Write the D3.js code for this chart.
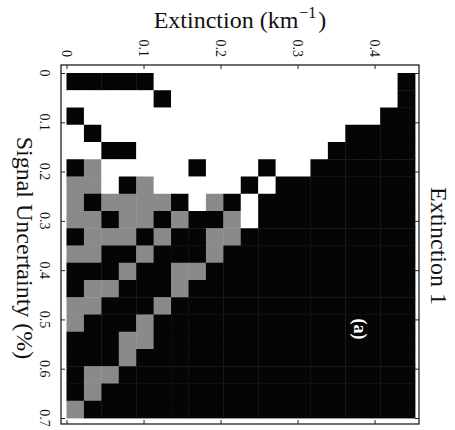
<!DOCTYPE html>
<html lang="en">
<head>
  <meta charset="UTF-8">
  <title>Extinction 1</title>
  <script src="https://d3js.org/d3.v7.min.js"></script>
  <style>
    body { margin: 0; background: #fff; }
    svg { display: block; }
    svg text { font-family: "Liberation Serif", "Times New Roman", Times, "DejaVu Serif", serif; }
    .frame line, .frame path { stroke: #222; }
  </style>
</head>
<body>
  <svg id="chart"></svg>
  <script>
    // data: 20 extinction bins (columns) x 20 signal-uncertainty bins (rows)
    // 0 = white, 1 = grey, 2 = black
    const extBins = [0,1,2,3,4,5,6,7,8,9,10,11,12,13,14,15,16,17,18,19];
    const uncBins = [0,1,2,3,4,5,6,7,8,9,10,11,12,13,14,15,16,17,18,19];
    const cellRows = [
      "22222000000000000002",
      "00000200000000000002",
      "20000000000000000022",
      "02000000000000002222",
      "00220000000000022222",
      "21000002000200222222",
      "11021000002022222222",
      "12111120120222222222",
      "11211212210222222222",
      "21112122112222222222",
      "11221222122222222222",
      "22212211222222222222",
      "21122212222222222222",
      "11222122222222222222",
      "12221222222222222222",
      "22211222222222222222",
      "22212222222222222222",
      "21122222222222222222",
      "21222222222222222222",
      "12222222222222222222"
    ];
    const extTicks = [0, 0.1, 0.2, 0.3, 0.4];
    const uncTicks = [0, 0.1, 0.2, 0.3, 0.4, 0.5, 0.6, 0.7];

    const W = 455, H = 430;
    const grid = { left: 66.5, right: 415, top: 73, bottom: 418 };
    const frame = { left: 61, right: 419, top: 65, bottom: 424 };

    const svg = d3.select("#chart").attr("width", W).attr("height", H);

    const xb = d3.scaleBand().domain(extBins).range([grid.left, grid.right]);
    const yb = d3.scaleBand().domain(uncBins).range([grid.top, grid.bottom]);
    const x = d3.scaleLinear().domain([0, 0.4525]).range([grid.left, grid.right]);
    const y = d3.scaleLinear().domain([0, 0.7]).range([grid.top, grid.bottom]);
    const color = d3.scaleOrdinal().domain([0, 1, 2]).range(["#ffffff", "#8a8a8a", "#050505"]);

    const cells = [];
    cellRows.forEach((row, r) => {
      row.split("").forEach((v, c) => cells.push({ r: uncBins[r], c: extBins[c], v: +v }));
    });

    svg.append("g")
      .selectAll("rect")
      .data(cells)
      .join("rect")
        .attr("x", d => xb(d.c))
        .attr("y", d => yb(d.r))
        .attr("width", xb.bandwidth() + 0.4)
        .attr("height", yb.bandwidth() + 0.4)
        .attr("fill", d => color(d.v));

    // frame with inward ticks
    const fr = svg.append("g").attr("class", "frame");
    fr.append("rect")
      .attr("x", frame.left).attr("y", frame.top)
      .attr("width", frame.right - frame.left).attr("height", frame.bottom - frame.top)
      .attr("fill", "none").attr("stroke", "#222").attr("stroke-width", 1.3);

    fr.append("g").attr("transform", `translate(0,${frame.top})`)
      .call(d3.axisTop(x).tickValues(extTicks).tickSize(-4).tickFormat(""))
      .call(g => g.select(".domain").remove());
    fr.append("g").attr("transform", `translate(0,${frame.bottom})`)
      .call(d3.axisBottom(x).tickValues(extTicks).tickSize(-4).tickFormat(""))
      .call(g => g.select(".domain").remove());
    fr.append("g").attr("transform", `translate(${frame.left},0)`)
      .call(d3.axisLeft(y).tickValues(uncTicks).tickSize(-4).tickFormat(""))
      .call(g => g.select(".domain").remove());
    fr.append("g").attr("transform", `translate(${frame.right},0)`)
      .call(d3.axisRight(y).tickValues(uncTicks).tickSize(-4).tickFormat(""))
      .call(g => g.select(".domain").remove());

    // tick labels (rotated, as in the scanned figure)
    svg.append("g").selectAll("text")
      .data(extTicks)
      .join("text")
        .attr("transform", d => `translate(${x(d)},57) rotate(90)`)
        .attr("text-anchor", "end")
        .attr("dy", "0.35em")
        .attr("font-size", 14)
        .attr("fill", "#111")
        .text(d => d === 0 ? "0" : d3.format(".1f")(d));

    svg.append("g").selectAll("text")
      .data(uncTicks)
      .join("text")
        .attr("transform", d => `translate(40,${y(d)}) rotate(90)`)
        .attr("text-anchor", "middle")
        .attr("font-size", 14)
        .attr("fill", "#111")
        .text(d => d === 0 ? "0" : d3.format(".1f")(d));

    // titles
    const t = svg.append("text")
      .attr("x", 240).attr("y", 28)
      .attr("text-anchor", "middle")
      .attr("font-size", 24)
      .attr("fill", "#111");
    t.append("tspan").text("Extinction (km");
    t.append("tspan").attr("dy", -10).attr("dx", 1).attr("font-size", 16).text("−1");
    t.append("tspan").attr("dy", 10).attr("dx", 2).text(")");

    svg.append("text")
      .attr("transform", `translate(17,248) rotate(90)`)
      .attr("text-anchor", "middle")
      .attr("font-size", 24)
      .attr("fill", "#111")
      .text("Signal Uncertainty (%)");

    svg.append("text")
      .attr("transform", `translate(431,246) rotate(90)`)
      .attr("text-anchor", "middle")
      .attr("font-size", 24)
      .attr("fill", "#111")
      .text("Extinction 1");

    svg.append("text")
      .attr("transform", `translate(354,329) rotate(90)`)
      .attr("text-anchor", "middle")
      .attr("font-size", 18)
      .attr("font-weight", "bold")
      .attr("fill", "#fff")
      .text("(a)");
  </script>
</body>
</html>
